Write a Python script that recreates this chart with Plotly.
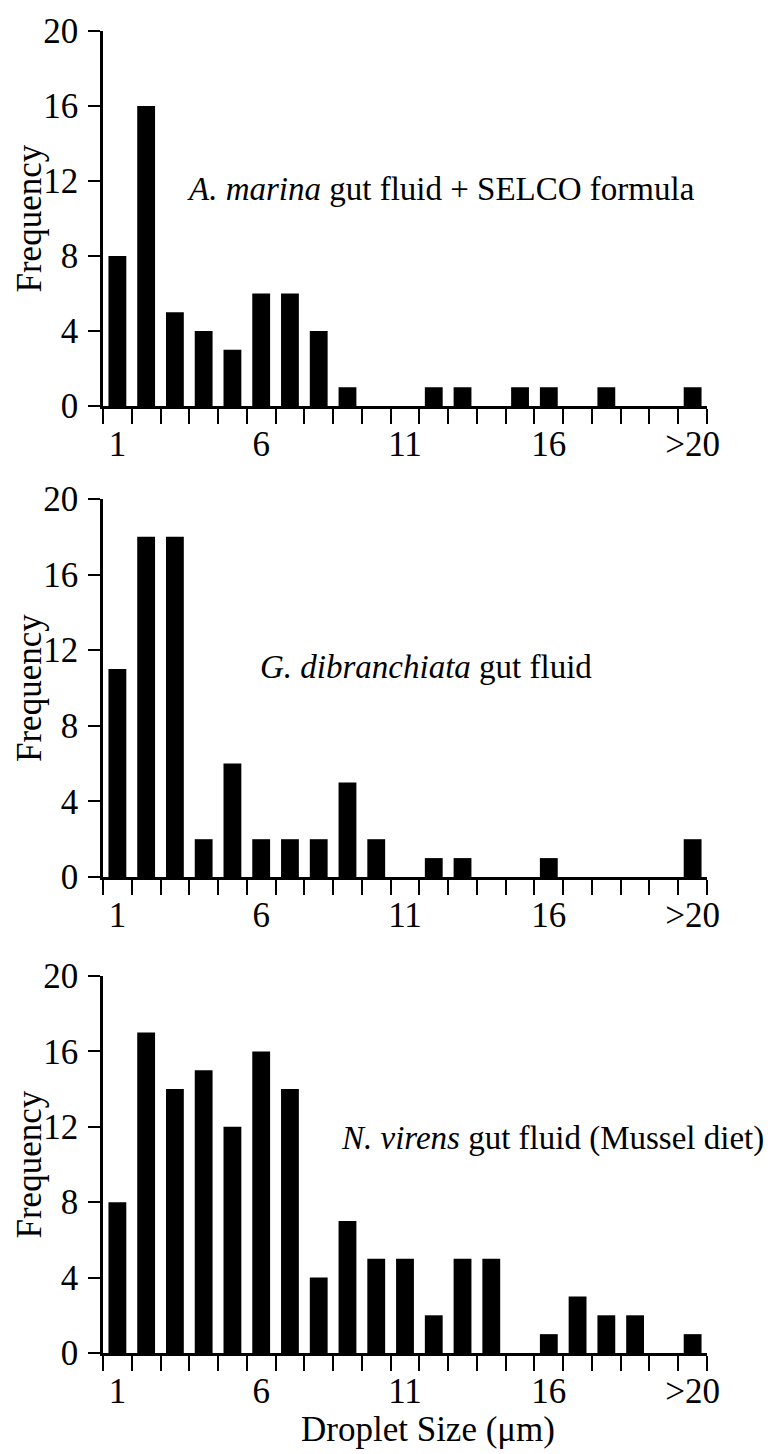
import plotly.graph_objects as go

# Droplet-size categories: 1..20 µm, and 21 stands for ">20"
categories = list(range(1, 22))
tick_positions = [1, 6, 11, 16, 21]
tick_labels = ["1", "6", "11", "16", ">20"]
y_ticks = [0, 4, 8, 12, 16, 20]

marina_selco = [8, 16, 5, 4, 3, 6, 6, 4, 1, 0, 0, 1, 1, 0, 1, 1, 0, 1, 0, 0, 1]
dibranchiata = [11, 18, 18, 2, 6, 2, 2, 2, 5, 2, 0, 1, 1, 0, 0, 1, 0, 0, 0, 0, 2]
virens_mussel = [8, 17, 14, 15, 12, 16, 14, 4, 7, 5, 5, 2, 5, 5, 0, 1, 3, 2, 2, 0, 1]

panel_labels = [
    "<i>A. marina</i> gut fluid + SELCO formula",
    "<i>G. dibranchiata</i> gut fluid",
    "<i>N. virens</i> gut fluid (Mussel diet)",
]
label_pos = [(3.35, 11.6), (5.9, 11.1), (8.72, 11.4)]

series = [marina_selco, dibranchiata, virens_mussel]

OFF = 8  # page body margin of the browser
W, H = 782 - OFF, 1454 - OFF
FONT = "Liberation Serif, Times New Roman, serif"
FS_TICK = 35
FS_ANN = 33
# panel pixel extents in the page (top of y=20, bottom y=0)
panels_px = [(31 - OFF, 406 - OFF), (499 - OFF, 877 - OFF), (976 - OFF, 1353 - OFF)]
ML, MR = 103 - OFF, W - (707 - OFF)
MT, MB = 31 - OFF, H - (1353 - OFF)
PH = H - MT - MB
PW = W - ML - MR

fig = go.Figure()
layout = dict(
    width=W, height=H,
    margin=dict(l=ML, r=MR, t=MT, b=MB, autoexpand=False),
    paper_bgcolor="white", plot_bgcolor="white",
    showlegend=False,
    font=dict(family=FONT, size=FS_TICK, color="black"),
)

annotations = []
for i, (vals, lab, (lx, ly), (ptop, pbot)) in enumerate(zip(series, panel_labels, label_pos, panels_px)):
    n = "" if i == 0 else str(i + 1)
    fig.add_trace(go.Bar(
        x=categories, y=vals,
        marker=dict(color="black", line=dict(width=0)),
        xaxis="x" + n, yaxis="y" + n,
        width=0.62,
    ))
    dom = [max(0, (H - MB - pbot) / PH), min(1, (H - MB - ptop) / PH)]
    xa = dict(
        domain=[0, 1], anchor="y" + n, automargin=False,
        range=[0.5, 21.5],
        tickmode="array", tickvals=tick_positions, ticktext=tick_labels,
        ticks="outside", ticklen=5, tickcolor="rgba(0,0,0,0)",
        tickfont=dict(family=FONT, size=FS_TICK, color="black"),
        showline=True, linewidth=2.5, linecolor="black",
        showgrid=False, zeroline=False,
        minor=dict(tickmode="array", tickvals=[0.5 + k for k in range(22)],
                   ticks="outside", ticklen=15, tickwidth=2, tickcolor="black",
                   showgrid=False),
    )
    ya = dict(
        domain=dom, anchor="x" + n, automargin=False,
        range=[0, 20],
        tickmode="array", tickvals=y_ticks,
        ticks="outside", ticklen=12, tickwidth=2, tickcolor="black",
        ticklabelstandoff=3,
        tickfont=dict(family=FONT, size=FS_TICK, color="black"),
        showline=True, linewidth=2.5, linecolor="black",
        showgrid=False, zeroline=False,
    )
    layout["xaxis" + n] = xa
    layout["yaxis" + n] = ya
    annotations.append(dict(
        text=lab, x=lx, y=ly, xref="x" + n, yref="y" + n,
        xanchor="left", yanchor="middle", showarrow=False,
        font=dict(family=FONT, size=FS_ANN, color="black"),
    ))
    # y-axis title "Frequency"
    annotations.append(dict(
        text="Frequency", textangle=-90,
        x=(29 - OFF - ML) / PW, xref="paper", y=10, yref="y" + n,
        xanchor="center", yanchor="middle", showarrow=False,
        font=dict(family=FONT, size=35, color="black"),
    ))

# x-axis title under bottom panel
annotations.append(dict(
    text="Droplet Size (μm)",
    x=(428 - OFF - ML) / PW, xref="paper", y=(H - MB - (1430 - OFF)) / PH, yref="paper",
    xanchor="center", yanchor="middle", showarrow=False,
    font=dict(family=FONT, size=35, color="black"),
))

layout["annotations"] = annotations
fig.update_layout(**layout)
fig.write_html("out.html")
